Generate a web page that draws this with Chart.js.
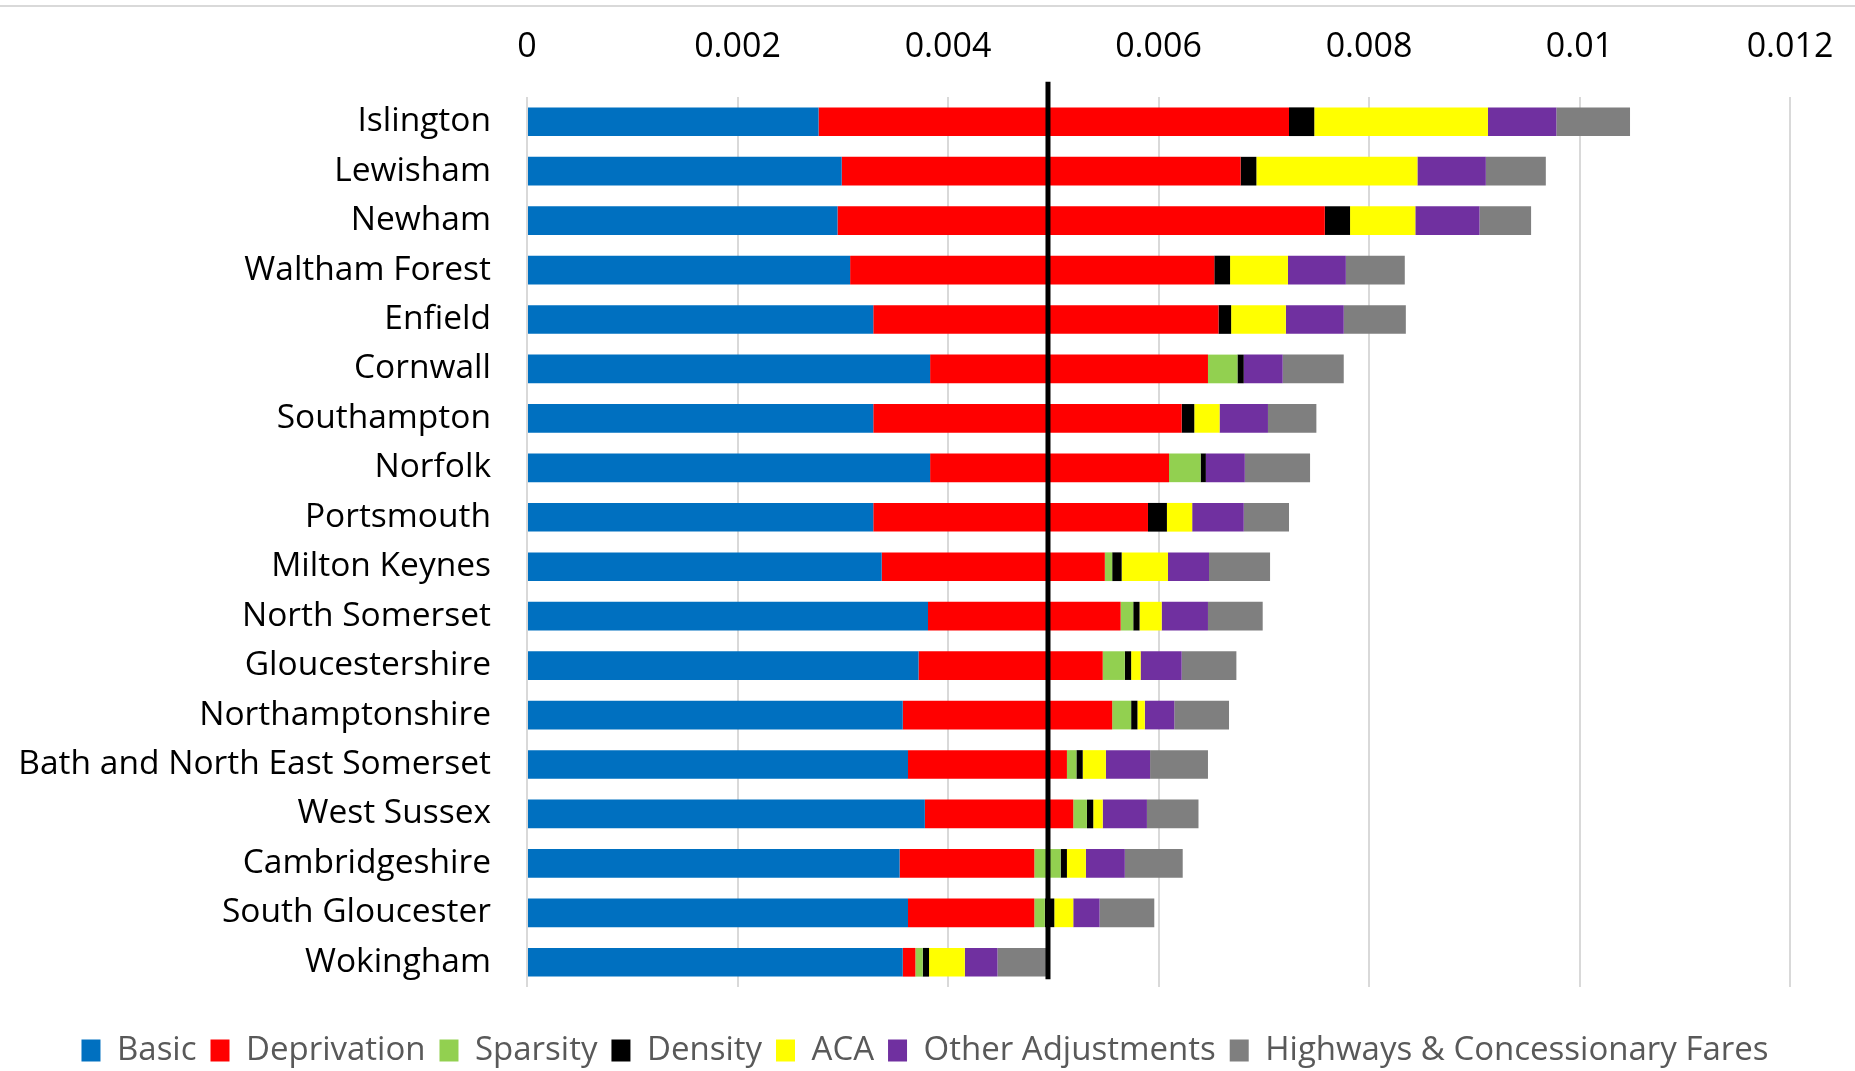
<!DOCTYPE html>
<html>
<head>
<meta charset="utf-8">
<script src="https://cdn.jsdelivr.net/npm/chart.js@4/dist/chart.umd.min.js"></script>
<style>
  body { margin: 0; background: #fff; }
  #wrap { width: 1855px; height: 1071px; }
</style>
</head>
<body>
<div id="wrap"><canvas id="funding-chart" width="1855" height="1071"></canvas></div>
<script>
const categories = ["Islington","Lewisham","Newham","Waltham Forest","Enfield","Cornwall","Southampton","Norfolk","Portsmouth","Milton Keynes","North Somerset","Gloucestershire","Northamptonshire","Bath and North East Somerset","West Sussex","Cambridgeshire","South Gloucester","Wokingham"];

const basic       = [0.00277,0.00299,0.00295,0.00307,0.00329,0.00383,0.00329,0.00383,0.00329,0.00337,0.00381,0.00372,0.00357,0.00362,0.00378,0.00354,0.00362,0.00357];
const deprivation = [0.00447,0.00379,0.00463,0.00346,0.00328,0.00264,0.00293,0.00227,0.00261,0.00212,0.00183,0.00175,0.00199,0.00151,0.00141,0.00128,0.00120,0.00012];
const sparsity    = [0,0,0,0,0,0.00028,0,0.00030,0,0.00007,0.00012,0.00021,0.00018,0.00009,0.00013,0.00025,0.00010,0.00007];
const density     = [0.00024,0.00015,0.00024,0.00015,0.00012,0.00006,0.00012,0.00005,0.00018,0.00009,0.00006,0.00006,0.00006,0.00006,0.00006,0.00006,0.00009,0.00006];
const aca         = [0.00165,0.00153,0.00062,0.00055,0.00052,0,0.00024,0,0.00024,0.00044,0.00021,0.00009,0.00007,0.00022,0.00009,0.00018,0.00018,0.00034];
const otherAdj    = [0.00065,0.00065,0.00061,0.00055,0.00055,0.00037,0.00046,0.00037,0.00049,0.00039,0.00044,0.00039,0.00028,0.00042,0.00042,0.00037,0.00025,0.00031];
const highways    = [0.00070,0.00057,0.00049,0.00056,0.00059,0.00058,0.00046,0.00062,0.00043,0.00058,0.00052,0.00052,0.00052,0.00055,0.00049,0.00055,0.00052,0.00047];

const xTickLabels = ["0","0.002","0.004","0.006","0.008","0.01","0.012"];

// vertical marker level
const floorLevel = 0.00495;

const FONT = "'Open Sans', 'DejaVu Sans', sans-serif";

// thin rule across the top of the canvas
const topRule = {
    id: 'topRule',
    beforeDraw(chart) {
        const ctx = chart.ctx;
        ctx.save();
        ctx.strokeStyle = '#d9d9d9';
        ctx.lineWidth = 2;
        ctx.beginPath();
        ctx.moveTo(0, 6);
        ctx.lineTo(chart.width, 6);
        ctx.stroke();
        ctx.restore();
    }
};

// move the legend down under the plot and re-centre it on the page
const legendShift = {
    id: 'legendShift',
    afterLayout(chart) {
        const lg = chart.legend;
        lg.top += 33;
        lg.bottom += 33;
        lg.left += 30;
        lg.right += 30;
    }
};

// black vertical line at floorLevel
const floorLine = {
    id: 'floorLine',
    afterDatasetsDraw(chart) {
        const x = chart.scales.x.getPixelForValue(floorLevel);
        const y = chart.scales.y;
        const ctx = chart.ctx;
        ctx.save();
        ctx.strokeStyle = '#000';
        ctx.lineWidth = 5;
        ctx.beginPath();
        ctx.moveTo(x, y.getPixelForValue(0) - 40);
        ctx.lineTo(x, y.getPixelForValue(categories.length - 1) + 17);
        ctx.stroke();
        ctx.restore();
    }
};

const series = [
    { label: "Basic", data: basic, color: "#0070C0" },
    { label: "Deprivation", data: deprivation, color: "#FF0000" },
    { label: "Sparsity", data: sparsity, color: "#92D050" },
    { label: "Density", data: density, color: "#000000" },
    { label: "ACA", data: aca, color: "#FFFF00" },
    { label: "Other Adjustments", data: otherAdj, color: "#7030A0" },
    { label: "Highways & Concessionary Fares", data: highways, color: "#7F7F7F" }
];

let chart = new Chart(document.getElementById("funding-chart").getContext("2d"), {
    type: 'bar',
    data: {
        labels: categories,
        datasets: series.map(s => ({
            label: s.label,
            data: s.data,
            backgroundColor: s.color,
            borderWidth: 0,
            categoryPercentage: 1,
            barPercentage: 0.58
        }))
    },
    options: {
        indexAxis: 'y',
        responsive: false,
        animation: false,
        devicePixelRatio: 1,
        layout: {
            padding: { left: 0, right: 65, top: 0, bottom: 27 }
        },
        scales: {
            x: {
                position: 'top',
                stacked: true,
                min: 0,
                max: 0.012,
                ticks: {
                    stepSize: 0.002,
                    color: '#000',
                    font: { family: FONT, size: 34 },
                    padding: 29,
                    callback: (v, i) => xTickLabels[i]
                },
                grid: { color: '#d9d9d9', lineWidth: 2, drawTicks: false },
                border: { display: false },
                afterFit: (scale) => {
                    scale.height = 97;
                    scale.paddingLeft = 0;
                    scale.paddingRight = 0;
                }
            },
            y: {
                stacked: true,
                ticks: {
                    color: '#000',
                    font: { family: FONT, size: 33.5 },
                    padding: 36
                },
                grid: { display: false, drawTicks: false },
                border: { display: false },
                afterFit: (scale) => { scale.width = 527; }
            }
        },
        plugins: {
            legend: {
                position: 'bottom',
                labels: {
                    color: '#595959',
                    font: { family: FONT, size: 33 },
                    boxWidth: 19,
                    boxHeight: 22,
                    padding: 14
                }
            },
            tooltip: { enabled: false }
        }
    },
    plugins: [topRule, legendShift, floorLine]
});
</script>
</body>
</html>
